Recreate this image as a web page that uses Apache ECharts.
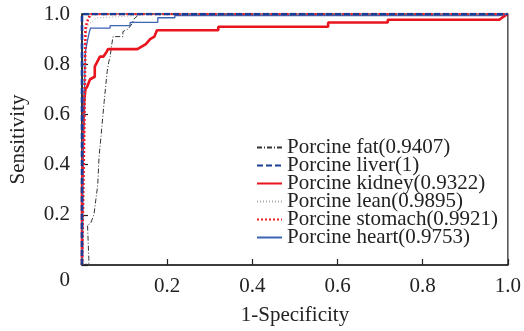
<!DOCTYPE html>
<html>
<head>
<meta charset="utf-8">
<script src="https://cdn.jsdelivr.net/npm/echarts@6/dist/echarts.min.js"></script>
<style>
  html, body { margin: 0; padding: 0; background: #fff; }
  #chart { width: 524px; height: 331px; }
</style>
</head>
<body>
<div id="chart"></div>
<script>
// ROC curves, [1-specificity, sensitivity]
const names = [
  "Porcine fat(0.9407)",
  "Porcine liver(1)",
  "Porcine kidney(0.9322)",
  "Porcine lean(0.9895)",
  "Porcine stomach(0.9921)",
  "Porcine heart(0.9753)"
];
const xTicks = [0, 0.2, 0.4, 0.6, 0.8, 1.0];
const yTicks = [0, 0.2, 0.4, 0.6, 0.8, 1.0];

const fatRoc = [
  [0, 0], [0.016, 0.005], [0.016, 0.025], [0.013, 0.16], [0.02, 0.165], [0.028, 0.2],
  [0.037, 0.32], [0.04, 0.43], [0.045, 0.52], [0.052, 0.65], [0.059, 0.77],
  [0.063, 0.81], [0.066, 0.83], [0.07, 0.88], [0.073, 0.91], [0.096, 0.91],
  [0.096, 0.93], [0.108, 0.94], [0.117, 0.96], [0.122, 0.98], [0.135, 1.0], [1, 1]
];
const liverRoc = [[0, 0], [0, 1], [1, 1]];
const kidneyRoc = [
  [0, 0], [0, 0.3], [0.003, 0.55], [0.005, 0.65], [0.008, 0.70], [0.012, 0.71],
  [0.019, 0.74], [0.03, 0.75], [0.03, 0.79], [0.036, 0.81], [0.042, 0.83],
  [0.05, 0.83], [0.058, 0.85], [0.061, 0.86], [0.13, 0.86], [0.14, 0.87],
  [0.15, 0.88], [0.16, 0.90], [0.17, 0.91], [0.176, 0.935], [0.32, 0.935],
  [0.32, 0.949], [0.578, 0.949], [0.578, 0.966], [0.718, 0.966], [0.718, 0.977],
  [0.98, 0.977], [0.99, 0.99], [1, 1]
];
const leanRoc = [
  [0, 0], [0.002, 0.5], [0.006, 0.85], [0.01, 0.93], [0.016, 0.96],
  [0.035, 0.985], [0.1, 0.99], [0.16, 1.0], [1, 1]
];
const stomachRoc = [
  [0, 0], [0.005, 0.5], [0.008, 0.9], [0.008, 0.94], [0.012, 0.97],
  [0.02, 1.0], [1, 1]
];
const heartRoc = [
  [0, 0], [0.003, 0.5], [0.008, 0.85], [0.013, 0.895], [0.017, 0.927],
  [0.02, 0.944], [0.066, 0.944], [0.066, 0.954], [0.113, 0.954], [0.113, 0.967],
  [0.178, 0.967], [0.178, 0.985], [0.218, 0.985], [0.218, 0.994], [0.98, 0.994], [1, 1]
];

const chart = echarts.init(document.getElementById("chart"));
const serif = "Liberation Serif";
const fs = 21;

function line(name, data, color, width, type) {
  return {
    name: name,
    type: "line",
    data: data,
    symbol: "none",
    animation: false,
    lineStyle: { color: color, width: width, type: type },
    itemStyle: { color: color }
  };
}

chart.setOption({
  animation: false,
  grid: {
    left: 82, right: 16, top: 14, bottom: 65,
    show: true, borderColor: "#222", borderWidth: 1.2
  },
  legend: {
    orient: "vertical",
    left: 251, top: 132,
    itemWidth: 25, itemHeight: 10, itemGap: -3,
    itemStyle: { opacity: 0 },
    textStyle: { fontFamily: serif, fontSize: fs, color: "#222" },
    data: names
  },
  xAxis: {
    type: "value",
    min: 0, max: 1, interval: 0.2,
    name: "1-Specificity",
    nameLocation: "middle", nameGap: 40,
    nameTextStyle: { fontFamily: serif, fontSize: fs, color: "#222" },
    axisLine: { lineStyle: { color: "#222", width: 1.5 } },
    axisTick: { inside: true, length: 6, lineStyle: { color: "#222", width: 1.2 } },
    axisLabel: {
      showMinLabel: false, margin: 11,
      fontFamily: serif, fontSize: fs, color: "#222",
      formatter: v => xTicks.includes(+v.toFixed(1)) ? v.toFixed(1) : ""
    },
    splitLine: { show: false }
  },
  yAxis: {
    type: "value",
    min: 0, max: 1, interval: 0.2,
    name: "Sensitivity",
    nameLocation: "middle", nameGap: 53,
    nameTextStyle: { fontFamily: serif, fontSize: fs, color: "#222" },
    axisLine: { lineStyle: { color: "#222", width: 1.5 } },
    axisTick: { inside: true, length: 6, lineStyle: { color: "#222", width: 1.2 } },
    axisLabel: {
      margin: 12,
      fontFamily: serif, fontSize: fs, color: "#222",
      formatter: v => (v === 0 ? "{z|0}" : yTicks.includes(+v.toFixed(1)) ? v.toFixed(1) : ""),
      rich: { z: { fontFamily: serif, fontSize: fs, color: "#222", padding: [30, 0, 0, 0] } }
    },
    splitLine: { show: false }
  },
  series: [
    line(names[0], fatRoc, "#333", 1, [5, 2, 1, 2]),
    line(names[2], kidneyRoc, "#e8141e", 2.6, "solid"),
    line(names[3], leanRoc, "#aaaaaa", 1, [1, 2]),
    line(names[5], heartRoc, "#3d63b5", 1.3, "solid"),
    line(names[4], stomachRoc, "#f01c2a", 2.6, [2, 2]),
    line(names[1], liverRoc, "#1a3e96", 2.6, [6, 3])
  ]
});
</script>
</body>
</html>
